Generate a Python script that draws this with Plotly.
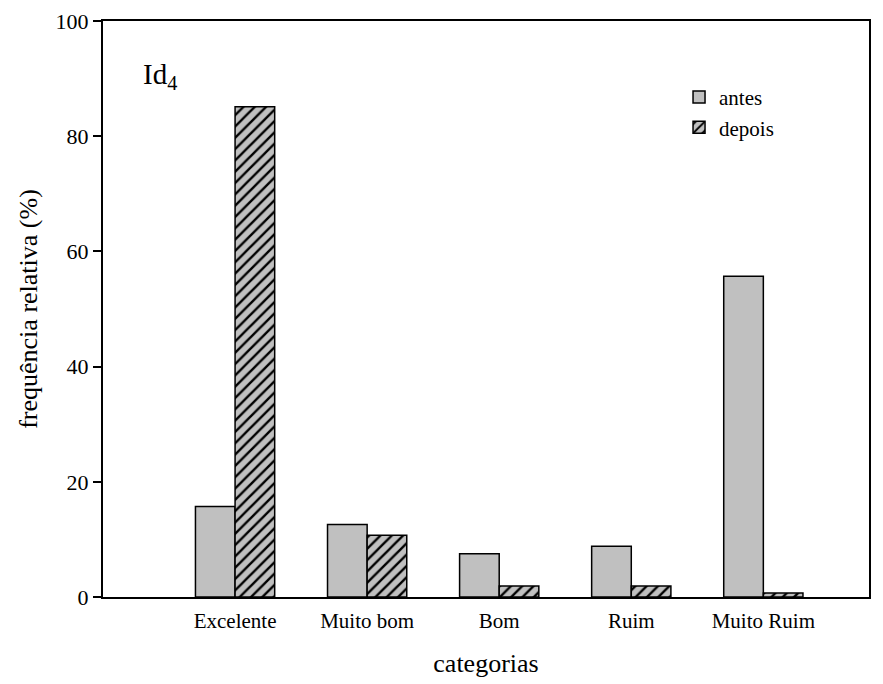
import plotly.graph_objects as go

# Relative frequency (%) per category, before and after
categorias = ["Excelente", "Muito bom", "Bom", "Ruim", "Muito Ruim"]
posicoes = [1, 2, 3, 4, 5]
antes = [15.7, 12.6, 7.5, 8.8, 55.7]
depois = [85.1, 10.7, 1.9, 1.9, 0.7]
y_ticks = [0, 20, 40, 60, 80, 100]

FONT = "Liberation Serif"

fig = go.Figure()
fig.add_trace(go.Bar(
    x=posicoes, y=antes, name="antes",
    marker=dict(color="#c0c0c0", line=dict(color="black", width=1.5)),
))
fig.add_trace(go.Bar(
    x=posicoes, y=depois, name="depois",
    marker=dict(
        color="#c0c0c0",
        line=dict(color="black", width=1.5),
        pattern=dict(shape="/", fgcolor="black", bgcolor="#c0c0c0",
                     size=8, solidity=0.3, fillmode="replace"),
    ),
))

fig.update_layout(
    width=883, height=684,
    margin=dict(l=103, r=14, t=21, b=87, autoexpand=False),
    barmode="group", bargap=0.4, bargroupgap=0,
    plot_bgcolor="white", paper_bgcolor="white",
    font=dict(family=FONT, color="black", size=21),
    showlegend=True,
    legend=dict(x=0.752, y=0.903, xanchor="left", yanchor="top",
                bgcolor="rgba(0,0,0,0)", font=dict(size=21, family=FONT),
                tracegroupgap=5, itemwidth=30),
    xaxis=dict(
        range=[0, 5.8], tickmode="array", tickvals=posicoes, ticktext=categorias,
        showgrid=False, zeroline=False, showline=True, linecolor="black",
        linewidth=2, mirror=True, ticks="", ticklabelstandoff=4,
        tickfont=dict(size=21, family=FONT), automargin=False,
        title=dict(text="categorias", font=dict(size=26, family=FONT), standoff=22),
    ),
    yaxis=dict(
        range=[0, 100], tickmode="array", tickvals=y_ticks,
        showgrid=False, zeroline=False, showline=True, linecolor="black",
        linewidth=2, mirror=True, ticks="outside", ticklen=8, tickwidth=1.5,
        tickcolor="black", tickfont=dict(size=22, family=FONT), automargin=False,
        title=dict(text="frequência relativa (%)", font=dict(size=26, family=FONT),
                   standoff=10),
    ),
    annotations=[dict(
        text="Id<sub>4</sub>", x=0.05, y=0.905, xref="paper", yref="paper",
        xanchor="left", yanchor="middle", showarrow=False,
        font=dict(size=29, family=FONT),
    )],
)

fig.write_html("out.html")
